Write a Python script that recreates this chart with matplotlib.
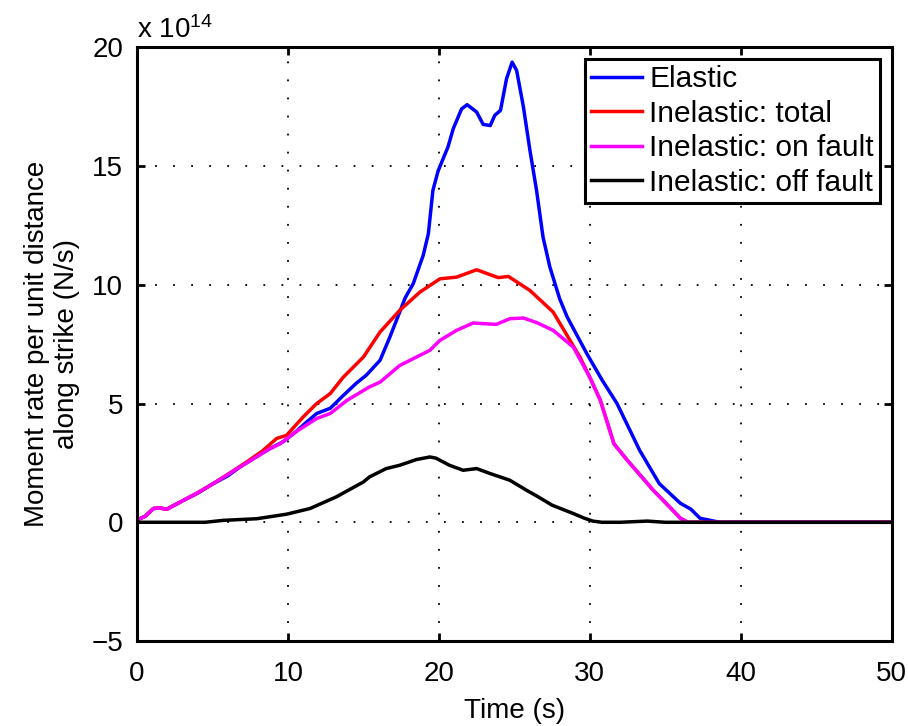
import matplotlib
matplotlib.use('Agg')
import matplotlib.pyplot as plt

plt.rcParams['font.family'] = ['Liberation Sans', 'DejaVu Sans']
plt.rcParams['mathtext.fontset'] = 'custom'
plt.rcParams['mathtext.rm'] = 'Liberation Sans'
plt.rcParams['mathtext.it'] = 'Liberation Sans'

# values in units of 1e14 N/s
t_el = [0, 0.53, 1.08, 1.52, 1.97, 2.85, 4, 5.05, 6, 6.82, 8, 8.8, 9.7, 10.5, 11.2, 11.9, 12.8,
        13.6, 14.5, 15.2, 16.1, 16.75, 17.4, 17.75, 18.3, 18.96, 19.3, 19.6, 19.95, 20.6, 20.95,
        21.5, 21.87, 22.5, 22.93, 23.4, 23.7, 24.08, 24.48, 24.85, 25.15, 25.6, 26.03, 26.47,
        26.9, 27.35, 28.0, 28.5, 29.8, 30.8, 31.8, 33.3, 34.6, 36, 36.7, 37.3, 38.6, 50]
y_el = [0.1, 0.25, 0.58, 0.6, 0.55, 0.85, 1.22, 1.63, 1.95, 2.33, 2.8, 3.1, 3.4, 3.8, 4.2, 4.58,
        4.8, 5.3, 5.84, 6.2, 6.82, 7.8, 8.85, 9.43, 10.05, 11.24, 12.15, 13.97, 14.8, 15.8, 16.57,
        17.4, 17.58, 17.27, 16.75, 16.7, 17.13, 17.34, 18.67, 19.37, 19.02, 17.48, 15.66, 13.97,
        12.0, 10.75, 9.41, 8.64, 7.1, 6.0, 5.0, 3.03, 1.63, 0.8, 0.55, 0.17, 0, 0]

t_tot = [0, 0.53, 1.08, 1.52, 1.97, 2.85, 3.95, 5.05, 6.16, 7.26, 8.3, 9.25, 9.9, 11, 11.9, 12.8,
         13.65, 15, 16.1, 17.4, 18.74, 20.07, 21.17, 22.5, 23.93, 24.6, 26.03, 27.57, 29.34,
         30.0, 30.7, 31.6, 32.5, 34.2, 35.2, 36, 36.5, 50]
y_tot = [0.1, 0.25, 0.58, 0.6, 0.55, 0.85, 1.22, 1.63, 2.08, 2.54, 3.0, 3.53, 3.66, 4.43, 5.0,
         5.42, 6.1, 6.96, 8.01, 8.92, 9.69, 10.25, 10.32, 10.63, 10.3, 10.35, 9.76, 8.85, 6.96,
         6.1, 5.13, 3.3, 2.6, 1.35, 0.7, 0.17, 0, 0]

t_on = [0, 0.53, 1.08, 1.52, 1.97, 2.85, 3.95, 5.05, 6.82, 8.8, 9.47, 10.5, 11.9, 12.8, 13.9,
        15.4, 16.1, 17.4, 19.4, 20.07, 21.17, 22.27, 23.8, 24.7, 25.6, 26.5, 27.57, 28.9, 30,
        30.7, 31.6, 32.5, 34.2, 35.2, 36, 36.5, 50]
y_on = [0.1, 0.25, 0.58, 0.6, 0.55, 0.85, 1.22, 1.63, 2.33, 3.1, 3.3, 3.8, 4.37, 4.58, 5.13,
        5.7, 5.9, 6.6, 7.24, 7.66, 8.08, 8.39, 8.33, 8.57, 8.6, 8.4, 8.08, 7.38, 6.1, 5.13, 3.3,
        2.6, 1.35, 0.7, 0.17, 0, 0]

t_off = [0, 4.5, 5.7, 7.93, 9.9, 11.46, 13.2, 15, 15.4, 16.5, 17.4, 18.5, 19.4, 19.8, 20.7, 21.6,
         22.5, 23.4, 24.7, 25.8, 26.5, 27.5, 28.9, 29.6, 30.2, 30.8, 32, 33.8, 35, 50]
y_off = [0, 0, 0.08, 0.15, 0.34, 0.58, 1.07, 1.7, 1.91, 2.26, 2.4, 2.64, 2.75, 2.7, 2.4, 2.19,
         2.26, 2.05, 1.77, 1.35, 1.1, 0.72, 0.37, 0.18, 0.05, 0, 0, 0.05, 0, 0]

fig = plt.figure(figsize=(9.08, 7.26), dpi=100)
ax = fig.add_axes([0.151, 0.117, 0.831, 0.818])

lw = 2.5
ax.plot(t_el, y_el, color='#0000ff', lw=lw, label='Elastic')
ax.plot(t_tot, y_tot, color='#ff0000', lw=lw, label='Inelastic: total')
ax.plot(t_on, y_on, color='#ff00ff', lw=lw, label='Inelastic: on fault')
ax.plot(t_off, y_off, color='black', lw=lw, label='Inelastic: off fault')

ax.set_xlim(0, 50)
ax.set_ylim(-5, 20)
ax.set_xticks([0, 10, 20, 30, 40, 50])
ax.set_yticks([-5, 0, 5, 10, 15, 20])
ax.grid(True, color='black', linestyle=(0, (1, 9)), linewidth=1.3)
ax.tick_params(direction='in', length=6, width=2, labelsize=20, top=True, right=True)
ax.tick_params(axis='x', pad=14)
ax.tick_params(axis='y', pad=10)
for s in ax.spines.values():
    s.set_linewidth(2.2)

ax.set_xlabel('Time (s)', fontsize=20, labelpad=8)
ax.set_ylabel('Moment rate per unit distance\nalong strike (N/s)', fontsize=20, labelpad=8)
ax.text(0.0, 1.005, r'x 10$^{14}$', transform=ax.transAxes, fontsize=20, ha='left', va='bottom')

leg = ax.legend(loc='upper right', fontsize=21.5, handlelength=1.7, handletextpad=0.25,
                labelspacing=0.22, borderpad=0.2, borderaxespad=0.4, fancybox=False,
                framealpha=1)
leg.get_frame().set_edgecolor('black')
leg.get_frame().set_linewidth(2.2)

fig.savefig('out.png', dpi=100)
